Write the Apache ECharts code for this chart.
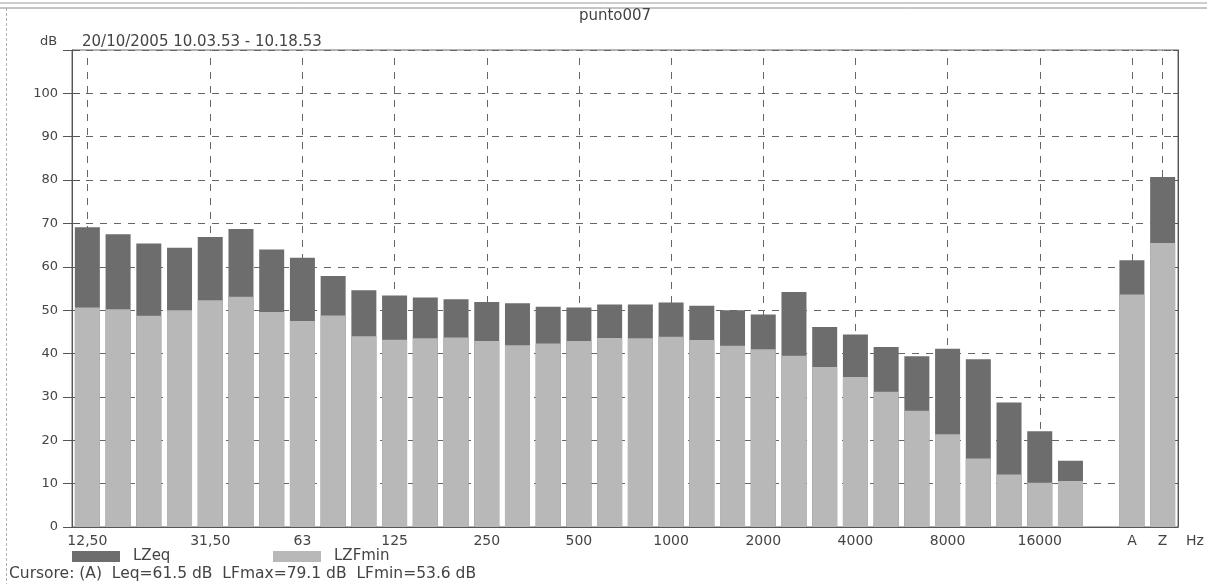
<!DOCTYPE html>
<html>
<head>
<meta charset="utf-8">
<script src="https://cdn.jsdelivr.net/npm/echarts@6/dist/echarts.min.js"></script>
<style>
html,body{margin:0;padding:0;background:#fff;}
#c{width:1207px;height:584px;}
</style>
</head>
<body>
<div id="c"></div>
<script>
// Frequency bands (1/3 octave), empty slot, then A and Z weighted totals
var categories = ['12,50','16','20','25','31,50','40','50','63','80','100','125','160','200','250','315','400','500','630','800','1000','1250','1600','2000','2500','3150','4000','5000','6300','8000','10000','12500','16000','20000','','A','Z'];
// Category indices that carry a label and a vertical grid line
var labelIndices = [0,4,7,10,13,16,19,22,25,28,31,34,35];
// LZeq (dark, top of bar) in dB
var lzeq = [69.1,67.5,65.4,64.4,66.9,68.7,64.0,62.1,57.9,54.6,53.4,52.9,52.5,51.9,51.6,50.8,50.6,51.3,51.3,51.8,51.0,50.0,49.0,54.2,46.1,44.4,41.5,39.4,41.1,38.7,28.7,22.1,15.3,null,61.5,80.7];
// LZFmin (light, lower part) in dB
var lzfmin = [50.6,50.2,48.7,50.0,52.3,53.1,49.6,47.5,48.8,44.0,43.2,43.5,43.7,42.9,41.9,42.3,42.9,43.6,43.5,43.9,43.1,41.8,41.0,39.5,36.9,34.6,31.2,26.8,21.4,15.8,12.1,10.2,10.6,null,53.6,65.5];
// Y axis
var yMin = 0, yMax = 110, yStep = 10;
var titleText = 'punto007';
var unitText = 'dB';
var dateText = '20/10/2005 10.03.53 - 10.18.53';
var hzText = 'Hz';
var cursorText = 'Cursore: (A)  Leq=61.5 dB  LFmax=79.1 dB  LFmin=53.6 dB';

var FONT = 'DejaVu Sans';
var TXT = '#444444';
var DARK = '#6d6d6d';
var LIGHT = '#b8b8b8';
var labelSet = {};
labelIndices.forEach(function(i){ labelSet[i] = true; });

var chart = echarts.init(document.getElementById('c'), null, {renderer:'canvas'});
var option = {
  animation: false,
  backgroundColor: '#ffffff',
  textStyle: {fontFamily: FONT},
  grid: {left: 72, right: 29, top: 50, bottom: 57, show: true, borderColor: '#666', borderWidth: 1, containLabel: false},
  legend: [
    {data: ['LZeq'], left: 72, top: 549, padding: 0, itemWidth: 48, itemHeight: 11, icon: 'rect',
     textStyle: {fontSize: 15, color: TXT, fontFamily: FONT, padding: [0,0,0,8]}, selectedMode: false},
    {data: ['LZFmin'], left: 273, top: 549, padding: 0, itemWidth: 48, itemHeight: 11, icon: 'rect',
     textStyle: {fontSize: 15, color: TXT, fontFamily: FONT, padding: [0,0,0,8]}, selectedMode: false}
  ],
  xAxis: {
    type: 'category',
    data: categories,
    boundaryGap: true,
    axisLine: {show: true, lineStyle: {color: '#555', width: 1}},
    axisTick: {show: false},
    splitLine: {show: false},
    axisLabel: {
      interval: function(index){ return !!labelSet[index]; },
      fontSize: 14, color: TXT, fontFamily: FONT, margin: 7
    }
  },
  yAxis: [
    {type: 'value', position: 'left', min: yMin, max: yMax, interval: yStep,
     axisLine: {show: true, lineStyle: {color: '#555'}},
     axisTick: {show: true, inside: false, length: 9, lineStyle: {color: '#555'}},
     axisLabel: {fontSize: 13, color: TXT, fontFamily: FONT, margin: 14,
       formatter: function(v){ return v > 100 ? '' : String(v); }},
     splitLine: {show: true, lineStyle: {color: '#666', width: 1, type: [7,7]}}},
    {type: 'value', position: 'left', min: yMin, max: yMax, interval: yStep,
     axisLine: {show: false},
     axisTick: {show: true, inside: true, length: 8, lineStyle: {color: '#555'}},
     axisLabel: {show: false}, splitLine: {show: false}},
    {type: 'value', position: 'right', min: yMin, max: yMax, interval: yStep,
     axisLine: {show: true, lineStyle: {color: '#555'}},
     axisTick: {show: true, inside: true, length: 5, lineStyle: {color: '#555'}},
     axisLabel: {show: false}, splitLine: {show: false}}
  ],
  series: [
    {name: 'LZeq', type: 'bar', yAxisIndex: 0, data: lzeq, barWidth: 25, barGap: '-100%', z: 10,
     itemStyle: {color: DARK}},
    {name: 'LZFmin', type: 'bar', yAxisIndex: 0, data: lzfmin, barWidth: 25, barGap: '-100%', z: 10,
     itemStyle: {color: LIGHT}},
    {name: 'grid-v', type: 'line', yAxisIndex: 0, data: categories.map(function(){ return null; }), z: 1,
     symbol: 'none', silent: true,
     markLine: {silent: true, symbol: ['none','none'], label: {show: false}, z: 1,
       lineStyle: {type: [7,7], color: '#666', width: 1},
       emphasis: {disabled: true},
       data: labelIndices.map(function(i){ return {xAxis: categories[i]}; })}}
  ],
  graphic: [
    {type: 'line', shape: {x1: 0, y1: 3, x2: 1207, y2: 3}, style: {stroke: '#9a9a9a', lineWidth: 1}, silent: true},
    {type: 'line', shape: {x1: 0, y1: 8, x2: 1207, y2: 8}, style: {stroke: '#8a8a8a', lineWidth: 1}, silent: true},
    {type: 'line', shape: {x1: 6.5, y1: 8, x2: 6.5, y2: 584}, style: {stroke: '#b0b0b0', lineWidth: 1, lineDash: [3,2]}, silent: true},
    {type: 'text', style: {x: 615, y: 16, text: titleText, fontSize: 15, fontFamily: FONT, fill: TXT, textAlign: 'center', textVerticalAlign: 'middle'}},
    {type: 'text', style: {x: 40, y: 42, text: unitText, fontSize: 13, fontFamily: FONT, fill: TXT, textVerticalAlign: 'middle'}},
    {type: 'text', style: {x: 82, y: 42, text: dateText, fontSize: 15, fontFamily: FONT, fill: TXT, textVerticalAlign: 'middle'}},
    {type: 'text', style: {x: 1186, y: 541, text: hzText, fontSize: 14, fontFamily: FONT, fill: TXT, textVerticalAlign: 'middle'}},
    {type: 'text', style: {x: 9, y: 574, text: cursorText, fontSize: 15.5, fontFamily: FONT, fill: TXT, textVerticalAlign: 'middle'}}
  ]
};
chart.setOption(option);
</script>
</body>
</html>
